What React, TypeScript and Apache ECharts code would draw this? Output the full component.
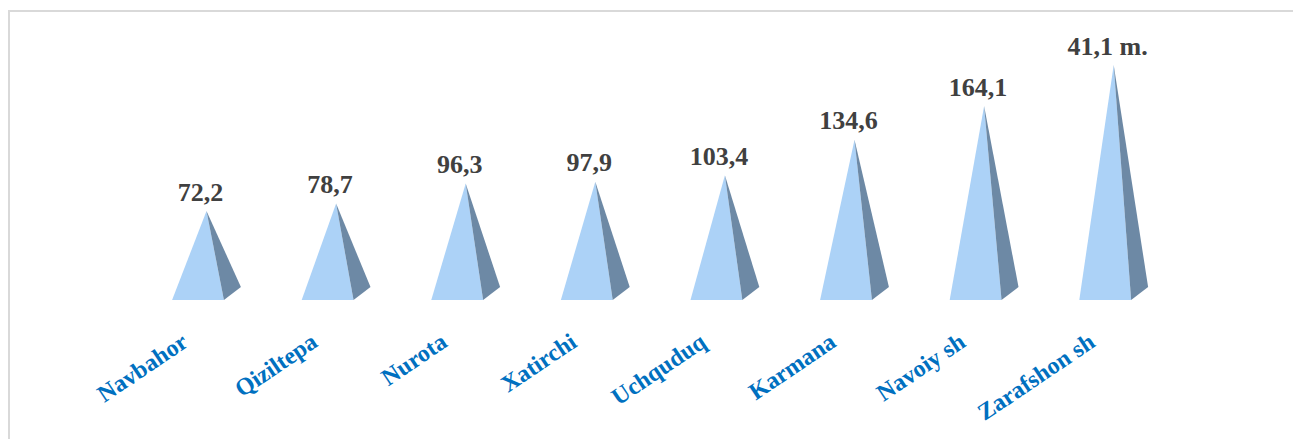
import React, { useEffect, useRef } from "react";
import * as echarts from "echarts";

const categories = ["Navbahor", "Qiziltepa", "Nurota", "Xatirchi", "Uchquduq", "Karmana", "Navoiy sh", "Zarafshon sh"];
const values = [72.2, 78.7, 96.3, 97.9, 103.4, 134.6, 164.1, 200.0];
const valueLabels = ["72,2", "78,7", "96,3", "97,9", "103,4", "134,6", "164,1", "41,1 m."];

const FRONT = "#ACD2F7";
const SIDE = "#6D89A5";

export default function App() {
  const ref = useRef<HTMLDivElement>(null);
  useEffect(() => {
    if (!ref.current) return;
    const chart = echarts.init(ref.current, null, { renderer: "svg" });
    chart.setOption({
      animation: false,
      grid: { left: 131.7, width: 1036.8, top: 53, bottom: 154.5, containLabel: false },
      xAxis: {
        type: "category",
        data: categories,
        axisLine: { show: false },
        axisTick: { show: false },
        splitLine: { show: false },
        axisLabel: {
          rotate: 34,
          interval: 0,
          margin: 31,
          padding: [0, 26, 0, 0],
          color: "#0070C0",
          fontFamily: "Liberation Serif",
          fontWeight: "bold",
          fontSize: 24,
        },
      },
      yAxis: { type: "value", min: 0, max: 200, show: false, splitLine: { show: false } },
      series: [
        {
          type: "custom",
          data: values.map((v, i) => [i, v]),
          encode: { x: 0, y: 1 },
          clip: false,
          renderItem: (params: any, api: any) => {
            const idx = api.value(0);
            const v = api.value(1);
            const base = api.coord([idx, 0]);
            const top = api.coord([idx, v]);
            const band = api.size([1, 0])[0];
            const c = base[0];
            const z = base[1];
            const fw = band * 0.4;
            const dx = band * 0.131;
            const dy = band * 0.1;
            const left = c - (fw + dx) / 2;
            const fr = left + fw;
            const br = left + fw + dx;
            const yf = z + dy / 2;
            const yb = z - dy / 2;
            const apex = [c, top[1]];
            return {
              type: "group",
              children: [
                {
                  type: "polygon",
                  shape: { points: [[left, yf], [fr, yf], apex] },
                  style: { fill: FRONT },
                },
                {
                  type: "polygon",
                  shape: { points: [[fr, yf], [br, yb], apex] },
                  style: { fill: SIDE },
                },
                {
                  type: "text",
                  style: {
                    text: valueLabels[idx],
                    x: c - 6,
                    y: top[1] - 6,
                    align: "center",
                    verticalAlign: "bottom",
                    fill: "#404040",
                    fontFamily: "Liberation Serif",
                    fontWeight: "bold",
                    fontSize: 26,
                  },
                },
              ],
            };
          },
        },
      ],
    });
    return () => chart.dispose();
  }, []);
  return (
    <div style={{ marginTop: 2, width: 1300, height: 440, border: "2px solid #d9d9d9", boxSizing: "border-box" }}>
      <div ref={ref} style={{ width: 1296, height: 436 }} />
    </div>
  );
}
